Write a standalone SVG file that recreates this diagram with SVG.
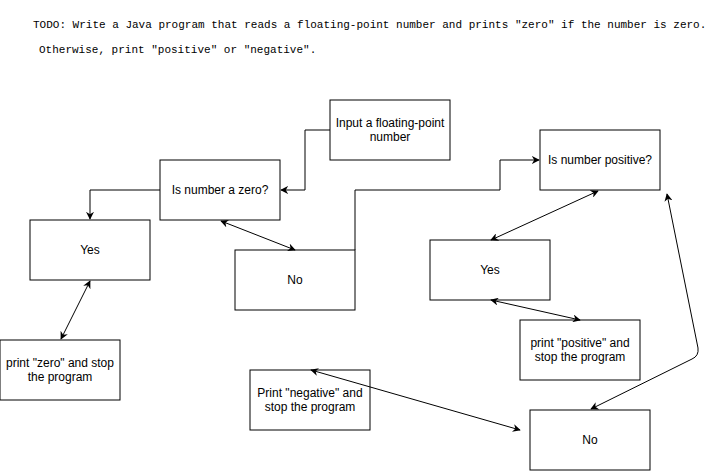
<svg xmlns="http://www.w3.org/2000/svg" width="721" height="471" viewBox="0 0 721 471">
<style>
.box{fill:#fff;stroke:#000;stroke-width:1}
.lbl{font-family:"Liberation Sans",Arial,Helvetica,sans-serif;font-size:12px;fill:#000;text-anchor:middle}
.hdr{font-family:"Liberation Mono","DejaVu Sans Mono",monospace;font-size:11px;fill:#000}
.edge{fill:none;stroke:#000;stroke-width:1}
</style>
<defs>
<marker id="arr" viewBox="0 0 10 10" refX="9" refY="5" markerWidth="8" markerHeight="8" markerUnits="userSpaceOnUse" orient="auto-start-reverse">
<path d="M0,0 L10,5 L0,10 L3,5 Z" fill="#000"/>
</marker>
</defs>
<rect width="721" height="471" fill="#fff"/>
<text class="hdr" x="33" y="28">TODO: Write a Java program that reads a floating-point number and prints "zero" if the number is zero.</text>
<text class="hdr" x="39" y="53">Otherwise, print "positive" or "negative".</text>
<g id="input"><rect class="box" x="330" y="100" width="120" height="60"/><text class="lbl" x="390" y="127">Input a floating-point</text><text class="lbl" x="390" y="141">number</text></g>
<g id="iszero"><rect class="box" x="160" y="160" width="120" height="60"/><text class="lbl" x="220" y="194">Is number a zero?</text></g>
<g id="yes1"><rect class="box" x="30" y="220" width="120" height="60"/><text class="lbl" x="90" y="254">Yes</text></g>
<g id="no1"><rect class="box" x="235" y="250" width="120" height="60"/><text class="lbl" x="295" y="284">No</text></g>
<g id="printzero"><rect class="box" x="0" y="340" width="120" height="60"/><text class="lbl" x="60" y="367">print "zero" and stop</text><text class="lbl" x="60" y="381">the program</text></g>
<g id="ispositive"><rect class="box" x="540" y="130" width="120" height="60"/><text class="lbl" x="600" y="164">Is number positive?</text></g>
<g id="yes2"><rect class="box" x="430" y="240" width="120" height="60"/><text class="lbl" x="490" y="274">Yes</text></g>
<g id="printpositive"><rect class="box" x="520" y="320" width="120" height="60"/><text class="lbl" x="580" y="347">print "positive" and</text><text class="lbl" x="580" y="361">stop the program</text></g>
<g id="printnegative"><rect class="box" x="250" y="370" width="120" height="60"/><text class="lbl" x="310" y="397">Print "negative" and</text><text class="lbl" x="310" y="411">stop the program</text></g>
<g id="no2"><rect class="box" x="530" y="410" width="120" height="60"/><text class="lbl" x="590" y="444">No</text></g>
<g id="connectors">
<path class="edge" d="M330,130 H305 V190 H281" marker-end="url(#arr)"/>
<path class="edge" d="M160,190 H90 V219" marker-end="url(#arr)"/>
<path class="edge" d="M221,221 L295,250" marker-start="url(#arr)" marker-end="url(#arr)"/>
<path class="edge" d="M355,250 V190 H500 V160 H539" marker-end="url(#arr)"/>
<path class="edge" d="M598,191 L491,240" marker-start="url(#arr)" marker-end="url(#arr)"/>
<path class="edge" d="M491,300 L580,320" marker-start="url(#arr)" marker-end="url(#arr)"/>
<path class="edge" d="M90,281 L61,339" marker-start="url(#arr)" marker-end="url(#arr)"/>
<path class="edge" d="M311,370 L520,430" marker-start="url(#arr)" marker-end="url(#arr)"/>
<path class="edge" d="M667,194 L698,348 Q699,356 692,359 L591,409" marker-start="url(#arr)" marker-end="url(#arr)"/>
</g>
</svg>
